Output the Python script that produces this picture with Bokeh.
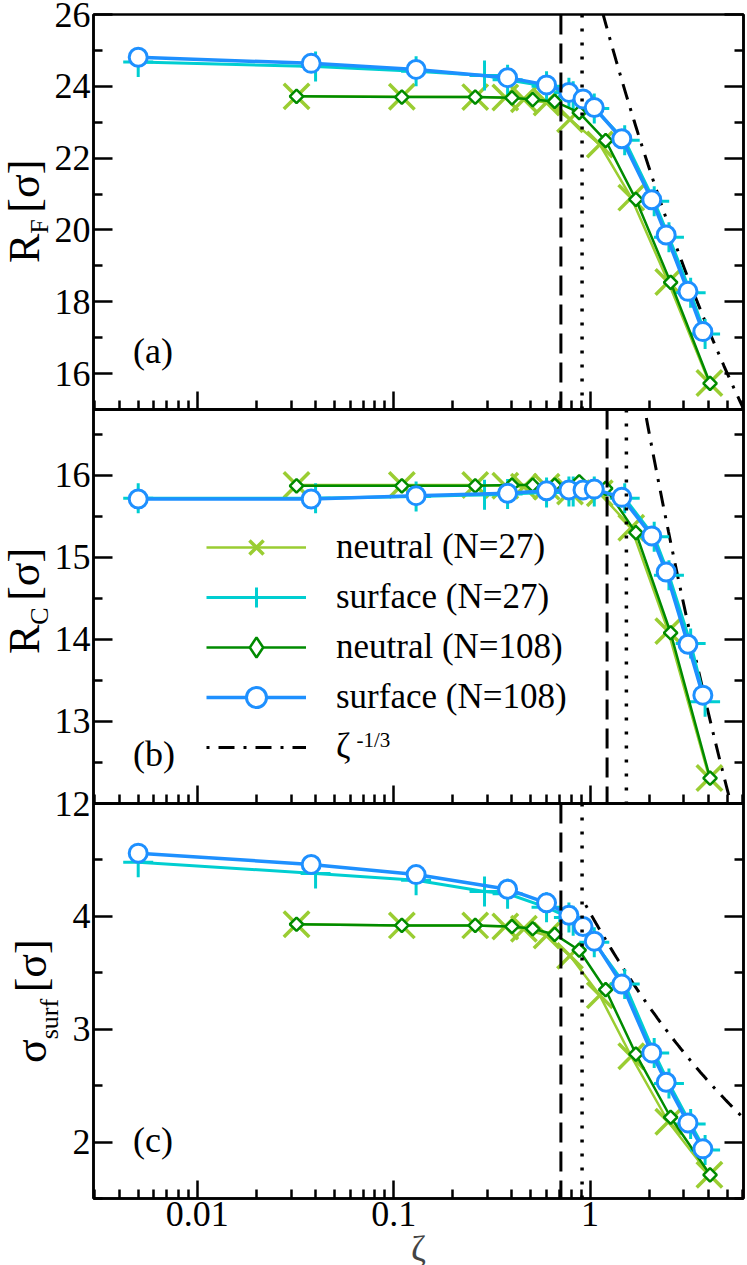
from math import pi
from bokeh.plotting import figure
from bokeh.models import (Range1d, FixedTicker, LinearAxis, Span, Label, Legend,
                          LegendItem, CustomJSTickFormatter, Div)
from bokeh.layouts import column, row
from bokeh.embed import file_html
from bokeh.resources import INLINE

# ---------------- data ----------------
zeta_n27 = [0.032, 0.11, 0.26, 0.37, 0.46, 0.60, 0.79, 1.12, 1.62, 2.50, 4.05]
zeta_s27 = [0.005, 0.04, 0.13, 0.29, 0.38, 0.60, 0.78, 0.82, 1.05, 1.50, 2.12, 2.52, 3.25, 3.85]
zeta_n108 = [0.032, 0.11, 0.26, 0.40, 0.51, 0.66, 0.88, 1.20, 1.71, 2.57, 4.08]
zeta_s108 = [0.005, 0.038, 0.13, 0.38, 0.60, 0.78, 0.92, 1.05, 1.45, 2.06, 2.44, 3.15, 3.75]

rf_n27 = [23.72, 23.71, 23.70, 23.69, 23.64, 23.55, 23.08, 22.38, 20.90, 18.55, 15.74]
rf_s27 = [24.68, 24.55, 24.42, 24.30, 24.18, 24.00, 23.82, 23.72, 23.38, 22.50, 20.80, 19.80, 18.25, 17.10]
rf_n108 = [23.72, 23.70, 23.70, 23.68, 23.63, 23.58, 23.27, 22.49, 20.85, 18.54, 15.73]
rf_s108 = [24.81, 24.64, 24.47, 24.24, 24.04, 23.83, 23.65, 23.41, 22.54, 20.84, 19.86, 18.29, 17.17]

rc_n27 = [15.88, 15.88, 15.88, 15.87, 15.86, 15.86, 15.80, 15.78, 15.36, 14.10, 12.31]
rc_s27 = [15.72, 15.72, 15.74, 15.76, 15.77, 15.79, 15.80, 15.80, 15.80, 15.72, 15.25, 14.78, 13.95, 13.24]
rc_n108 = [15.87, 15.87, 15.87, 15.88, 15.88, 15.88, 15.92, 15.84, 15.30, 14.08, 12.31]
rc_s108 = [15.71, 15.71, 15.75, 15.78, 15.81, 15.82, 15.82, 15.83, 15.73, 15.26, 14.82, 13.94, 13.32]

sg_n27 = [3.93, 3.92, 3.92, 3.91, 3.89, 3.83, 3.65, 3.30, 2.76, 2.18, 1.71]
sg_s27 = [4.48, 4.38, 4.32, 4.22, 4.20, 4.08, 3.99, 3.96, 3.77, 3.40, 2.79, 2.52, 2.16, 1.93]
sg_n108 = [3.93, 3.92, 3.92, 3.91, 3.89, 3.84, 3.70, 3.35, 2.78, 2.22, 1.71]
sg_s108 = [4.56, 4.46, 4.37, 4.24, 4.12, 4.01, 3.91, 3.78, 3.40, 2.79, 2.53, 2.17, 1.94]

dashed_zeta = [0.71, 1.22, 0.71]       # vertical dashed lines (a, b, c)
dotted_zeta = [0.91, 1.53, 0.91]       # vertical dotted lines (a, b, c)
theory_amp = [27.36, 20.8, 4.03]       # amplitude of the zeta^(-1/3) curve per panel
theory_start = [1.0, 1.5, 0.95]        # where the curve starts per panel

x_ticks = [0.01, 0.1, 1.0]
x_tick_labels = ["0.01", "0.1", "1"]

legend_labels = ["neutral (N=27)", "surface (N=27)", "neutral (N=108)", "surface (N=108)", "\u03b6"]
y_label_main = ["R", "R", "\u03c3"]
y_label_sub = ["F", "C", "surf"]

# ---------------- style ----------------
FONT = "Liberation Serif"
C_N27 = "#9acd32"
C_S27 = "#00ced1"
C_N108 = "#008b00"
C_S108 = "#1e90ff"
X_RANGE = (0.00296, 6.04)
LEFT_W = 95


def style_axis(ax, tick_in, minor_in, show_labels):
    ax.axis_line_width = 2.5
    ax.axis_line_color = "black"
    ax.major_tick_line_width = 2.5
    ax.minor_tick_line_width = 2.5
    ax.major_tick_line_color = "black"
    ax.minor_tick_line_color = "black"
    ax.major_tick_in = tick_in
    ax.major_tick_out = 0
    ax.minor_tick_in = minor_in
    ax.minor_tick_out = 0
    ax.major_label_text_font = FONT
    ax.major_label_text_color = "black"
    if show_labels:
        ax.major_label_text_font_size = "36px"
        ax.major_label_standoff = 3
    else:
        ax.major_label_text_font_size = "0px"
        ax.major_label_standoff = 0


def make_panel(y0, y1, yt, ymt, fh, btop, bbot, show_x):
    p = figure(x_axis_type="log", x_range=Range1d(*X_RANGE), y_range=Range1d(y0, y1),
               frame_width=650, frame_height=fh, output_backend="svg", toolbar_location=None,
               min_border_left=93, min_border_right=4, min_border_top=btop,
               min_border_bottom=bbot, margin=(0, 0, 0, -LEFT_W), title=None,
               background_fill_color=None, border_fill_color=None)
    p.xgrid.visible = False
    p.ygrid.visible = False
    p.outline_line_color = "black"
    p.outline_line_width = 2.5

    minor_x = [m * 10.0 ** e for e in range(-3, 1) for m in range(2, 10)]
    p.xaxis.ticker = FixedTicker(ticks=x_ticks, minor_ticks=minor_x)
    p.xaxis.formatter = CustomJSTickFormatter(
        args=dict(xt=x_ticks, xl=x_tick_labels),
        code="const i = xt.indexOf(tick); return i >= 0 ? xl[i] : String(tick);")
    style_axis(p.xaxis[0], 18, 9, show_x)

    p.yaxis.ticker = FixedTicker(ticks=yt, minor_ticks=ymt)
    style_axis(p.yaxis[0], 19, 9, True)
    ra = LinearAxis(ticker=FixedTicker(ticks=yt, minor_ticks=ymt))
    style_axis(ra, 19, 9, False)
    p.add_layout(ra, "right")
    return p


def add_series(p, yn27, ys27, yn108, ys108):
    l1 = p.line(zeta_n27, yn27, line_color=C_N27, line_width=2.5)
    m1 = p.scatter(zeta_n27, yn27, marker="x", size=36, line_color=C_N27, line_width=3.5)
    l2 = p.line(zeta_s27, ys27, line_color=C_S27, line_width=3)
    m2 = p.scatter(zeta_s27, ys27, marker="cross", size=30, line_color=C_S27, line_width=3)
    l3 = p.line(zeta_n108, yn108, line_color=C_N108, line_width=2.5)
    # diamond symbol (shown in the legend), covered by the rotated square on the plot
    d3 = p.scatter(zeta_n108, yn108, marker="diamond", size=12,
                   line_color=C_N108, fill_color="white", line_width=2.5)
    m3 = p.scatter(zeta_n108, yn108, marker="square", angle=pi / 4, size=9.5,
                   line_color=C_N108, fill_color="white", line_width=2.5)
    l4 = p.line(zeta_s108, ys108, line_color=C_S108, line_width=3.5)
    m4 = p.scatter(zeta_s108, ys108, marker="circle", size=18,
                   line_color=C_S108, fill_color="white", line_width=3)
    return [[l1, m1], [l2, m2], [l3, d3], [l4, m4]]


def add_refs(p, i):
    p.add_layout(Span(location=dashed_zeta[i], dimension="height", line_color="black",
                      line_width=3, line_dash="20 9"))
    p.add_layout(Span(location=dotted_zeta[i], dimension="height", line_color="black",
                      line_width=3.5, line_dash="3 11"))
    z0 = theory_start[i]
    zt = [z0 * (6.5 / z0) ** (k / 80) for k in range(81)]
    yt = [theory_amp[i] * z ** (-1.0 / 3.0) for z in zt]
    return p.line(zt, yt, line_color="black", line_width=3, line_dash="3 9 16 9")


def lab(p, x, y, text, size, baseline="alphabetic", screen=False):
    units = "screen" if screen else "data"
    p.add_layout(Label(x=x, y=y, x_units=units, y_units=units, text=text,
                       text_font=FONT, text_font_size=size, text_color="black",
                       text_align="left", text_baseline=baseline))


def ylabel_div(i, height, left, top, sub_shift):
    inner = (
        f'<div style="position:absolute;left:{left}px;top:{top}px;'
        f'transform:rotate(-90deg);transform-origin:0 0;font-family:\'{FONT}\';'
        f'font-size:44px;line-height:36px;white-space:nowrap;color:#000;">'
        f'{y_label_main[i]}<span style="font-size:26px;position:relative;top:{sub_shift}px;">'
        f'{y_label_sub[i]}</span><span style="font-size:26px;"> </span>[\u03c3]</div>'
    )
    html = f'<div style="position:relative;width:{LEFT_W}px;height:{height}px;">{inner}</div>'
    return Div(text=html, width=LEFT_W, height=height, margin=0)


# ---------------- panel (a) ----------------
pa = make_panel(15, 26, [16, 18, 20, 22, 24, 26], [15, 17, 19, 21, 23, 25], 395,
                14, 20, False)
add_refs(pa, 0)
add_series(pa, rf_n27, rf_s27, rf_n108, rf_s108)
lab(pa, 0.0047, 16.64, "(a)", "36px", baseline="middle")

# ---------------- panel (b) ----------------
pb = make_panel(12, 16.8, [12, 13, 14, 15, 16], [12.5, 13.5, 14.5, 15.5, 16.5], 394,
                20, 20, False)
th_b = add_refs(pb, 1)
groups = add_series(pb, rc_n27, rc_s27, rc_n108, rc_s108)
lab(pb, 0.0047, 12.6, "(b)", "36px", baseline="middle")

items = [LegendItem(label=legend_labels[k], renderers=groups[k]) for k in range(4)]
items.append(LegendItem(label=legend_labels[4], renderers=[th_b]))
legend = Legend(items=items, location=(113, 31), orientation="vertical",
                glyph_width=100, glyph_height=50, label_height=50, spacing=0,
                label_standoff=30, padding=0, margin=0, border_line_color=None,
                background_fill_alpha=0, label_text_font=FONT,
                label_text_font_size="35px", label_text_color="black")
pb.add_layout(legend)
lab(pb, 263, 64, "-1/3", "21px", screen=True)

# ---------------- panel (c) ----------------
pc = make_panel(1.5, 5.0, [2, 3, 4], [1.5, 2.5, 3.5, 4.5], 395, 20, 67, True)
add_refs(pc, 2)
add_series(pc, sg_n27, sg_s27, sg_n108, sg_s108)
pc.xaxis.axis_label = "\u03b6"
pc.xaxis.axis_label_text_font = FONT
pc.xaxis.axis_label_text_font_style = "normal"
pc.xaxis.axis_label_text_font_size = "36px"
pc.xaxis.axis_label_standoff = 0
lab(pc, 0.0047, 2.02, "(c)", "36px", baseline="middle")

# ---------------- layout ----------------
ra_ = row(ylabel_div(0, 429, 7, 263, 9), pa, margin=0)
rb_ = row(ylabel_div(1, 434, 7, 265, 9), pb, margin=(-40, 0, 0, 0))
rc_ = row(ylabel_div(2, 482, 14, 280, 12), pc, margin=(-40, 0, 0, 0))

layout = column(ra_, rb_, rc_, spacing=0)
open("out.html", "w").write(file_html(layout, INLINE))
